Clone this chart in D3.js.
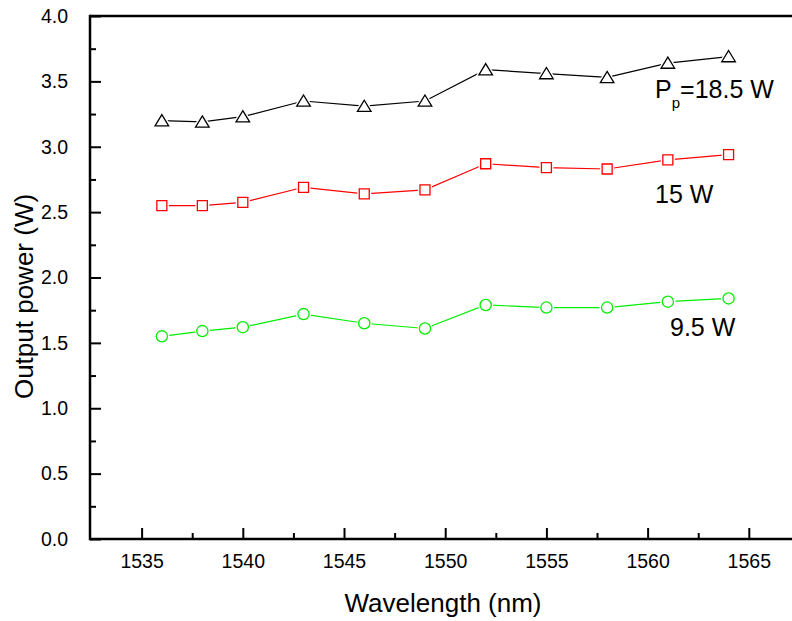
<!DOCTYPE html>
<html>
<head>
<meta charset="utf-8">
<script src="https://cdn.jsdelivr.net/npm/d3@7"></script>
<style>
  body { margin: 0; background: #fff; }
  svg { display: block; font-family: Arial, "Liberation Sans", sans-serif; }
</style>
</head>
<body>
<svg id="chart" width="792" height="621"></svg>
<script>
const wavelengths = [1536, 1538, 1540, 1543, 1546, 1549, 1552, 1555, 1558, 1561, 1564];
const power185 = [3.20, 3.19, 3.23, 3.35, 3.31, 3.35, 3.59, 3.56, 3.53, 3.64, 3.69];
const power15  = [2.55, 2.55, 2.575, 2.69, 2.64, 2.67, 2.87, 2.84, 2.83, 2.90, 2.94];
const power95  = [1.55, 1.59, 1.62, 1.72, 1.65, 1.61, 1.79, 1.77, 1.77, 1.815, 1.84];
const xMajorTicks = [1535, 1540, 1545, 1550, 1555, 1560, 1565];
const xMinorTicks = [1537.5, 1542.5, 1547.5, 1552.5, 1557.5, 1562.5];
const yMajorTicks = [0, 0.5, 1.0, 1.5, 2.0, 2.5, 3.0, 3.5, 4.0];
const yMinorTicks = [0.25, 0.75, 1.25, 1.75, 2.25, 2.75, 3.25, 3.75];
const seriesNames = ["18.5 W", "15 W", "9.5 W"];

const svg = d3.select("#chart");
const mLeft = 90, mTop = 16, mBottom = 539;
const x = d3.scaleLinear().domain([1532.45, 1567.5]).range([mLeft, mLeft + 35.05 * 20.24]);
const y = d3.scaleLinear().domain([0, 4]).range([mBottom, mTop]);

// axes
const axisW = 2.5;
const gx = svg.append("g").attr("transform", `translate(0,${mBottom})`);
gx.call(d3.axisBottom(x).tickValues(xMajorTicks).tickSize(-11).tickPadding(20).tickFormat(d3.format("d")));
gx.append("g").call(d3.axisBottom(x).tickValues(xMinorTicks).tickSize(-6).tickFormat(""));
const gy = svg.append("g").attr("transform", `translate(${mLeft},0)`);
gy.call(d3.axisLeft(y).tickValues(yMajorTicks).tickSize(-11).tickPadding(22).tickFormat(d3.format(".1f")));
gy.append("g").call(d3.axisLeft(y).tickValues(yMinorTicks).tickSize(-6).tickFormat(""));
svg.selectAll(".domain").remove();
svg.selectAll(".tick line").attr("stroke", "#000").attr("stroke-width", 2);
svg.selectAll(".tick text").attr("fill", "#000").attr("font-size", 19.5);
gx.selectAll(".tick text").attr("dy", "0.71em").attr("y", 15.5);

// frame lines
svg.append("line").attr("x1", mLeft).attr("x2", 792).attr("y1", mBottom).attr("y2", mBottom)
  .attr("stroke", "#000").attr("stroke-width", axisW);
svg.append("line").attr("x1", mLeft).attr("x2", 792).attr("y1", mTop).attr("y2", mTop)
  .attr("stroke", "#000").attr("stroke-width", axisW);
svg.append("line").attr("x1", mLeft).attr("x2", mLeft).attr("y1", mTop - axisW/2).attr("y2", mBottom + axisW/2)
  .attr("stroke", "#000").attr("stroke-width", axisW);

// titles
svg.append("text").attr("x", 443).attr("y", 612).attr("text-anchor", "middle")
  .attr("font-size", 26).text("Wavelength (nm)");
svg.append("text").attr("transform", "translate(33,296.5) rotate(-90)").attr("text-anchor", "middle")
  .attr("font-size", 26).text("Output power (W)");

// series
const series = [
  {name: seriesNames[0], vals: power185, color: "#000000", shape: "tri"},
  {name: seriesNames[1], vals: power15, color: "#ff0000", shape: "sq"},
  {name: seriesNames[2], vals: power95, color: "#00ee00", shape: "circ"}
];
const line = d3.line().x(d => x(d[0])).y(d => y(d[1]));
function markerPath(shape) {
  if (shape === "tri") return "M0,-6L6.8,5.2L-6.8,5.2Z";
  if (shape === "sq") return "M-5,-5H5V5H-5Z";
  const p = d3.path(); p.arc(0, 0, 5.6, 0, 2 * Math.PI); p.closePath(); return p.toString();
}
series.forEach(s => {
  const pts = wavelengths.map((w, i) => [w, s.vals[i]]);
  const g = svg.append("g");
  g.append("path").attr("d", line(pts)).attr("fill", "none").attr("stroke", s.color).attr("stroke-width", 1.2);
  const mp = markerPath(s.shape);
  g.selectAll(".halo").data(pts).join("path").attr("class", "halo")
    .attr("d", mp).attr("transform", d => `translate(${x(d[0])},${y(d[1])})`)
    .attr("fill", "#fff").attr("stroke", "#fff").attr("stroke-width", 4);
  g.selectAll(".mk").data(pts).join("path").attr("class", "mk")
    .attr("d", mp).attr("transform", d => `translate(${x(d[0])},${y(d[1])})`)
    .attr("fill", "#fff").attr("stroke", s.color).attr("stroke-width", 1.3);
});

// annotations
const t1 = svg.append("text").attr("x", 655).attr("y", 98).attr("font-size", 25);
t1.append("tspan").text("P");
t1.append("tspan").attr("font-size", 15).attr("dy", 10).text("p");
t1.append("tspan").attr("dy", -10).text("=" + seriesNames[0]);
svg.append("text").attr("x", 655).attr("y", 203).attr("font-size", 25).text(seriesNames[1]);
svg.append("text").attr("x", 670).attr("y", 336).attr("font-size", 25).text(seriesNames[2]);
</script>
</body>
</html>
